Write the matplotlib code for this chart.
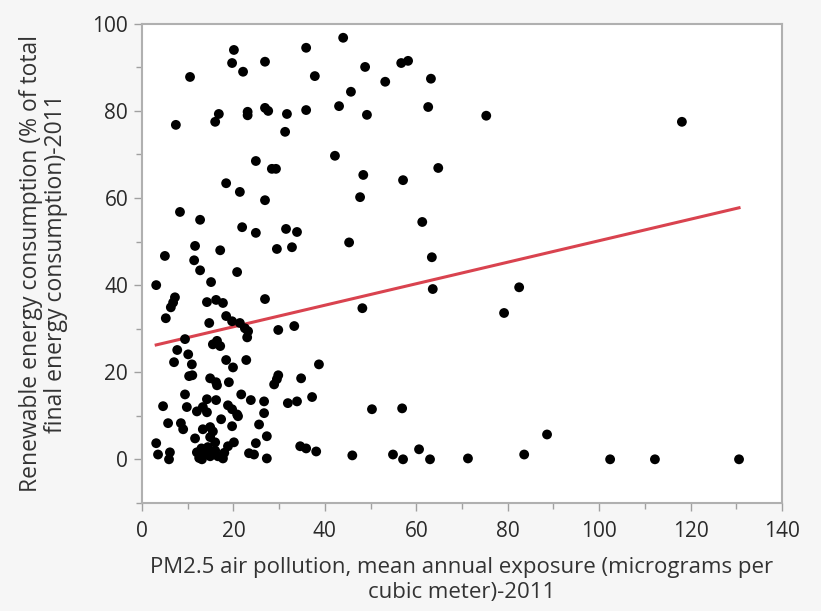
import matplotlib
matplotlib.use('Agg')
import matplotlib.pyplot as plt
import numpy as np
from matplotlib.ticker import MultipleLocator

# PM2.5 exposure (x) and renewable share (y)
pm25 = [
    44.0, 20.1, 35.9, 19.7, 26.9, 22.1, 10.5, 37.8, 45.7, 43.1, 16.8, 16.0, 7.4,
    23.1, 23.1, 26.9, 27.6, 31.7, 35.9, 31.3, 24.9, 42.2, 28.4, 29.3, 18.4, 21.4,
    26.9, 48.8, 56.7, 58.2, 53.2, 63.2, 49.2, 62.6, 75.3, 48.4, 57.1, 64.8, 47.7,
    118.1,
    8.3, 12.7, 21.9, 24.9, 31.5, 33.9, 45.3, 11.6, 17.1, 29.5, 32.8, 5.0, 11.4,
    12.7, 20.8, 15.1, 3.1, 7.2, 6.8, 6.3, 5.2, 14.2, 16.2, 17.7, 26.9, 18.4, 19.7,
    21.4, 22.5, 23.2, 14.7, 29.8, 33.3, 61.3, 63.4, 63.6, 82.5, 48.2, 79.2, 23.0,
    9.4, 15.5, 16.4, 17.1, 7.7, 10.1, 7.0, 10.9, 18.4, 19.9, 22.8, 38.7, 10.3,
    11.0, 14.9, 16.4, 16.2, 19.0, 29.8, 29.5, 28.9, 34.8, 9.4, 14.2, 16.2, 21.7,
    23.8, 26.7, 31.9, 33.9, 37.2, 4.6, 9.8, 12.0, 13.3, 14.2, 18.8, 19.7, 20.8,
    26.7, 17.3, 21.0, 19.7, 5.7, 8.5, 9.0, 14.9, 13.3, 15.5, 25.6, 11.6, 14.9,
    16.0, 27.3, 3.1, 20.1, 18.8, 24.9, 34.6, 35.9, 38.1, 3.5, 6.1, 5.9, 12.0,
    12.5, 13.1, 13.8, 14.9, 15.5, 16.6, 17.7, 14.4, 23.4, 24.5, 27.3, 46.0,
    13.0, 16.0, 18.0,
    50.3, 56.9, 88.6, 54.9, 57.1, 60.6, 63.0, 71.3, 83.6, 102.4, 112.2, 130.6,
]
renewable = [
    96.8, 94.0, 94.5, 91.0, 91.3, 89.0, 87.8, 88.0, 84.4, 81.1, 79.3, 77.5, 76.8,
    79.8, 79.0, 80.7, 80.0, 79.3, 80.2, 75.2, 68.5, 69.7, 66.7, 66.7, 63.4, 61.4,
    59.5, 90.1, 91.0, 91.5, 86.7, 87.4, 79.1, 80.9, 78.9, 65.3, 64.1, 66.9, 60.2,
    77.5,
    56.8, 55.0, 53.3, 52.0, 52.9, 52.2, 49.8, 49.0, 48.0, 48.3, 48.7, 46.7, 45.7,
    43.4, 43.0, 40.7, 40.0, 37.2, 36.0, 34.9, 32.4, 36.1, 36.6, 35.9, 36.8, 32.9,
    31.7, 31.3, 30.1, 29.4, 31.3, 29.7, 30.6, 54.5, 46.4, 39.1, 39.5, 34.7, 33.6,
    28.0,
    27.6, 26.4, 27.2, 26.0, 25.1, 24.1, 22.3, 21.8, 22.8, 21.1, 22.8, 21.8, 19.1,
    19.3, 18.6, 17.0, 17.7, 17.7, 19.3, 18.4, 17.2, 18.6, 14.9, 13.8, 13.6, 14.9,
    13.6, 13.3, 12.9, 13.3, 14.3, 12.2, 12.0, 11.0, 12.0, 10.8, 12.4, 11.5, 10.3,
    10.6, 9.2, 9.9, 7.6, 8.3, 8.3, 6.9, 7.4, 6.9, 6.4, 8.0, 4.8, 5.1,
    3.9, 5.3, 3.7, 3.9, 3.0, 3.7, 3.0, 2.5, 1.8, 1.1, 1.6, 0.0, 1.6,
    0.3, 0.0, 1.2, 0.7, 1.8, 0.7, 0.2, 2.8, 1.4, 1.1, 0.2, 0.9,
    2.5, 2.0, 1.5,
    11.5, 11.7, 5.7, 1.1, 0.0, 2.3, 0.0, 0.2, 1.1, 0.0, 0.0, 0.0,
]

# linear fit line as shown in the reference
fit_intercept = 25.5
fit_slope = 0.247

x_ticks = [0, 20, 40, 60, 80, 100, 120, 140]
y_ticks = [0, 20, 40, 60, 80, 100]

plt.rcParams['font.family'] = ['Open Sans', 'DejaVu Sans']

fig = plt.figure(figsize=(8.21, 6.11), dpi=100, facecolor='#f6f6f6')
ax = fig.add_axes([0.173, 0.177, 0.7795, 0.784])
ax.set_facecolor('white')

ax.scatter(pm25, renewable, s=50, color='black', edgecolors='none', zorder=3)

fx = np.array([min(pm25), max(pm25)])
ax.plot(fx, fit_intercept + fit_slope * fx, color='#d9434f', lw=2.2, zorder=2)

ax.set_xlim(0, 140)
ax.set_ylim(-10, 100)
ax.set_xticks(x_ticks)
ax.set_yticks(y_ticks)
ax.xaxis.set_minor_locator(MultipleLocator(10))
ax.yaxis.set_minor_locator(MultipleLocator(10))

for side in ax.spines.values():
    side.set_color('#b0b0b0')
    side.set_linewidth(1.5)

ax.tick_params(which='major', direction='out', length=6, width=1, color='#a0a0a0',
               labelsize=15, labelcolor='#2a2a2a', pad=4)
ax.tick_params(axis='x', which='major', pad=7)
ax.tick_params(which='minor', direction='out', length=4, width=1, color='#a0a0a0')

ax.set_xlabel('PM2.5 air pollution, mean annual exposure (micrograms per\ncubic meter)-2011',
              fontsize=16, color='#333333', linespacing=1.3, va='center')
ax.xaxis.set_label_coords(0.5, -0.161)
ax.set_ylabel('Renewable energy consumption (% of total\nfinal energy consumption)-2011',
              fontsize=16.5, color='#333333', linespacing=1.1, va='center', ha='center')
ax.yaxis.set_label_coords(-0.154, 0.5)

fig.savefig('out.png', dpi=100, facecolor=fig.get_facecolor())
